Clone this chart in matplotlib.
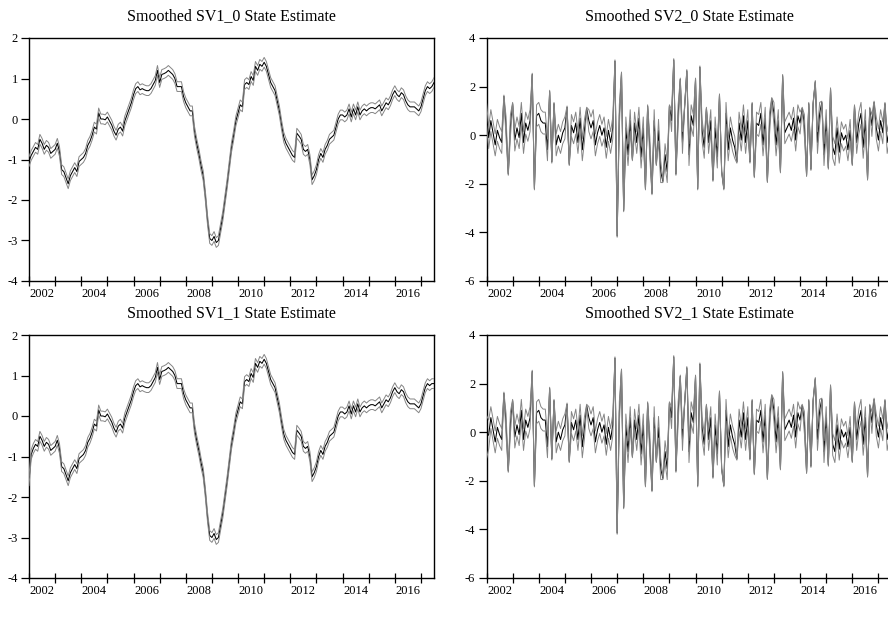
import matplotlib
matplotlib.use("Agg")
import matplotlib.pyplot as plt
import numpy as np

plt.rcParams['font.family'] = ['Liberation Serif', 'DejaVu Serif']

# monthly observations 2002M01 .. 2017M07
start_year = 2002
titles = ["Smoothed SV1_0 State Estimate", "Smoothed SV2_0 State Estimate",
          "Smoothed SV1_1 State Estimate", "Smoothed SV2_1 State Estimate"]

sv1_0 = [
    -1.05, -0.9, -0.8, -0.7, -0.75, -0.5, -0.6, -0.75, -0.65, -0.7, -0.85, -0.8,
    -0.75, -0.6, -0.8, -1.25, -1.3, -1.45, -1.6, -1.4, -1.3, -1.2, -1.3, -1.05,
    -1.0, -0.95, -0.85, -0.65, -0.55, -0.4, -0.2, -0.25, 0.15, 0.0, 0.0, -0.02,
    0.05, -0.05, -0.15, -0.3, -0.4, -0.25, -0.2, -0.3, -0.05, 0.1, 0.25, 0.4,
    0.6, 0.75, 0.8, 0.72, 0.75, 0.72, 0.7, 0.7, 0.75, 0.85, 0.95, 1.2,
    0.9, 1.1, 1.12, 1.15, 1.2, 1.15, 1.1, 1.0, 0.8, 0.8, 0.8, 0.55,
    0.4, 0.3, 0.2, 0.2, -0.3, -0.6, -0.85, -1.15, -1.4, -1.9, -2.5, -2.95,
    -3.0, -2.9, -3.05, -3.0, -2.7, -2.4, -2.0, -1.6, -1.15, -0.7, -0.4, -0.05,
    0.15, 0.35, 0.3, 0.85, 0.9, 0.85, 1.05, 0.95, 1.3, 1.2, 1.35, 1.3,
    1.4, 1.3, 1.1, 0.9, 0.8, 0.7, 0.45, 0.2, -0.15, -0.45, -0.6, -0.7,
    -0.8, -0.9, -0.95, -0.35, -0.42, -0.5, -0.75, -0.8, -0.75, -1.0, -1.5, -1.4,
    -1.25, -1.0, -0.85, -0.95, -0.75, -0.65, -0.5, -0.45, -0.4, -0.2, 0.0, 0.1,
    0.1, 0.05, 0.1, 0.25, 0.05, 0.25, 0.1, 0.3, 0.1, 0.2, 0.25, 0.2,
    0.25, 0.28, 0.28, 0.25, 0.3, 0.35, 0.2, 0.3, 0.4, 0.35, 0.45, 0.6,
    0.7, 0.6, 0.55, 0.65, 0.6, 0.45, 0.35, 0.3, 0.3, 0.3, 0.25, 0.2,
    0.3, 0.5, 0.7, 0.8, 0.75, 0.8, 0.9,
]

sv1_1 = [
    -1.6, -0.95, -0.8, -0.7, -0.75, -0.5, -0.6, -0.75, -0.65, -0.7, -0.85, -0.8,
    -0.75, -0.6, -0.8, -1.25, -1.3, -1.45, -1.6, -1.4, -1.3, -1.2, -1.3, -1.05,
    -1.0, -0.95, -0.85, -0.65, -0.55, -0.4, -0.2, -0.25, 0.15, 0.0, 0.0, -0.02,
    0.05, -0.05, -0.15, -0.3, -0.4, -0.25, -0.2, -0.3, -0.05, 0.1, 0.25, 0.4,
    0.6, 0.75, 0.8, 0.72, 0.75, 0.72, 0.7, 0.7, 0.75, 0.85, 0.95, 1.2,
    0.9, 1.1, 1.12, 1.15, 1.2, 1.15, 1.1, 1.0, 0.8, 0.8, 0.8, 0.55,
    0.4, 0.3, 0.2, 0.2, -0.3, -0.6, -0.85, -1.15, -1.4, -1.9, -2.5, -2.95,
    -3.0, -2.9, -3.05, -3.0, -2.7, -2.4, -2.0, -1.6, -1.15, -0.7, -0.4, -0.05,
    0.15, 0.35, 0.3, 0.85, 0.9, 0.85, 1.05, 0.95, 1.3, 1.2, 1.35, 1.3,
    1.4, 1.3, 1.1, 0.9, 0.8, 0.7, 0.45, 0.2, -0.15, -0.45, -0.6, -0.7,
    -0.8, -0.9, -0.95, -0.35, -0.42, -0.5, -0.75, -0.8, -0.75, -1.0, -1.5, -1.4,
    -1.25, -1.0, -0.85, -0.95, -0.75, -0.65, -0.5, -0.45, -0.4, -0.2, 0.0, 0.1,
    0.1, 0.05, 0.1, 0.25, 0.05, 0.25, 0.1, 0.3, 0.1, 0.2, 0.25, 0.2,
    0.25, 0.28, 0.28, 0.25, 0.3, 0.35, 0.2, 0.3, 0.4, 0.35, 0.45, 0.6,
    0.7, 0.6, 0.55, 0.65, 0.6, 0.45, 0.35, 0.3, 0.3, 0.3, 0.25, 0.2,
    0.3, 0.5, 0.7, 0.8, 0.75, 0.8, 0.8,
]
sv1_band = 0.12

sv2_0 = [
    0.9, -0.1, 0.6, 0.1, -0.4, 0.2, -0.1, -0.3, 1.6, 0.3, -1.6, 0.4,
    1.3, -0.2, 0.3, -0.1, 0.9, -0.3, 0.5, 0.2, 0.6, 2.5, -2.2, 0.8,
    0.9, 0.6, 0.5, 0.5, -0.6, 1.8, -1.1, 1.3, -0.4, 0.0, -0.3, 0.1,
    0.3, 1.15, -1.2, 0.4, 0.1, 0.5, -0.3, 0.7, -0.6, 0.2, 1.1, 0.6,
    0.3, 0.6, -0.4, 0.1, 0.4, 0.0, 0.3, -0.5, 0.2, -0.3, 0.3, 3.05,
    -4.15, 0.8, 2.55, -3.1, 0.3, -0.8, 0.6, -1.0, 0.5, -0.3, 0.7, -0.9,
    0.3, -2.2, 1.2, -0.5, -2.4, 0.6, -1.2, 0.2, -1.5, -1.9, -0.8, -1.5,
    1.2, 0.6, 3.1, -1.6, 0.8, 2.3, -0.3, 1.2, 2.65, -0.8, 0.8, 0.4,
    2.3, -2.2, 2.8, 0.2, -0.5, 1.1, -0.3, 0.6, -1.85, 0.3, -0.9, 1.65,
    -1.5, -2.2, 0.9, -0.6, 0.3, -0.2, -0.5, -1.1, 0.5, -0.2, 0.8, -0.3,
    0.6, -1.1, 1.3, -1.7, 0.5, 0.4, 0.9, -0.4, 0.7, -1.9, 0.5, 1.5,
    0.9, -0.4, 0.6, -1.5, 2.45, 0.1, 0.3, 0.5, 0.2, 0.7, -0.2, 0.8,
    0.5, 1.1, 0.4, -1.65, 1.3, -1.4, 1.3, 2.2, -0.3, 0.9, 1.35, -0.8,
    0.6, -1.35, 1.9, -0.5, -0.8, 0.3, -0.7, 0.1, -0.2, 0.0, -0.6, 0.2,
    -1.2, 1.2, -0.3, 0.5, 0.9, -0.5, 0.6, -1.8, 1.1, 0.4, 1.35, 0.3,
    -0.2, 0.6, 0.1, 1.3, -0.3, 0.2, 0.1,
]
sv2_0_band = [
    0.45, 0.45, 0.45, 0.45, 0.45, 0.45, 0.45, 0.45, 0.05, 0.45, 0.05, 0.45,
    0.05, 0.45, 0.45, 0.45, 0.45, 0.45, 0.45, 0.45, 0.45, 0.05, 0.05, 0.45,
    0.45, 0.45, 0.45, 0.45, 0.45, 0.05, 0.05, 0.05, 0.45, 0.45, 0.45, 0.45,
    0.45, 0.05, 0.05, 0.45, 0.45, 0.45, 0.45, 0.45, 0.45, 0.45, 0.05, 0.45,
    0.45, 0.45, 0.45, 0.45, 0.45, 0.45, 0.45, 0.45, 0.45, 0.45, 0.45, 0.05,
    0.05, 0.45, 0.05, 0.05, 0.45, 0.45, 0.45, 0.05, 0.45, 0.45, 0.45, 0.45,
    0.45, 0.05, 0.05, 0.45, 0.05, 0.45, 0.05, 0.45, 0.45, 0.05, 0.45, 0.45,
    0.05, 0.45, 0.05, 0.05, 0.45, 0.05, 0.45, 0.05, 0.05, 0.45, 0.45, 0.45,
    0.05, 0.05, 0.05, 0.45, 0.45, 0.05, 0.45, 0.45, 0.05, 0.45, 0.45, 0.05,
    0.05, 0.05, 0.45, 0.45, 0.45, 0.45, 0.45, 0.05, 0.45, 0.45, 0.45, 0.45,
    0.45, 0.05, 0.05, 0.05, 0.45, 0.45, 0.45, 0.45, 0.45, 0.05, 0.45, 0.05,
    0.45, 0.45, 0.45, 0.05, 0.05, 0.45, 0.45, 0.45, 0.45, 0.45, 0.45, 0.45,
    0.45, 0.05, 0.45, 0.05, 0.05, 0.05, 0.05, 0.05, 0.45, 0.45, 0.05, 0.45,
    0.45, 0.05, 0.05, 0.45, 0.45, 0.45, 0.45, 0.45, 0.45, 0.45, 0.45, 0.45,
    0.05, 0.05, 0.45, 0.45, 0.45, 0.45, 0.45, 0.05, 0.05, 0.45, 0.05, 0.45,
    0.45, 0.45, 0.45, 0.05, 0.45, 0.45, 0.45,
]

sv2_1 = [
    -0.2, -0.1, 0.6, 0.1, -0.4, 0.2, -0.1, -0.3, 1.6, 0.3, -1.6, 0.4,
    1.3, -0.2, 0.3, -0.1, 0.9, -0.3, 0.5, 0.2, 0.6, 2.5, -2.2, 0.8,
    0.9, 0.6, 0.5, 0.5, -0.6, 1.8, -1.1, 1.3, -0.4, 0.0, -0.3, 0.1,
    0.3, 1.15, -1.2, 0.4, 0.1, 0.5, -0.3, 0.7, -0.6, 0.2, 1.1, 0.6,
    0.3, 0.6, -0.4, 0.1, 0.4, 0.0, 0.3, -0.5, 0.2, -0.3, 0.3, 3.05,
    -4.15, 0.8, 2.55, -3.1, 0.3, -0.8, 0.6, -1.0, 0.5, -0.3, 0.7, -0.9,
    0.3, -2.2, 1.2, -0.5, -2.4, 0.6, -1.2, 0.2, -1.5, -1.9, -0.8, -1.5,
    1.2, 0.6, 3.1, -1.6, 0.8, 2.3, -0.3, 1.2, 2.65, -0.8, 0.8, 0.4,
    2.3, -2.2, 2.8, 0.2, -0.5, 1.1, -0.3, 0.6, -1.85, 0.3, -0.9, 1.65,
    -1.5, -2.2, 0.9, -0.6, 0.3, -0.2, -0.5, -1.1, 0.5, -0.2, 0.8, -0.3,
    0.6, -1.1, 1.3, -1.7, 0.5, 0.4, 0.9, -0.4, 0.7, -1.9, 0.5, 1.5,
    0.9, -0.4, 0.6, -1.5, 2.45, 0.1, 0.3, 0.5, 0.2, 0.7, -0.2, 0.8,
    0.5, 1.1, 0.4, -1.65, 1.3, -1.4, 1.3, 2.2, -0.3, 0.9, 1.35, -0.8,
    0.6, -1.35, 1.9, -0.5, -0.8, 0.3, -0.7, 0.1, -0.2, 0.0, -0.6, 0.2,
    -1.2, 1.2, -0.3, 0.5, 0.9, -0.5, 0.6, -1.8, 1.1, 0.4, 1.35, 0.3,
    -0.2, 0.6, 0.1, 1.3, -0.3, 0.2, -0.2,
]
sv2_1_band = [
    0.9, 0.6, 0.45, 0.45, 0.45, 0.45, 0.45, 0.45, 0.05, 0.45, 0.05, 0.45,
] + sv2_0_band[12:]

y_limits = [(-4, 2), (-6, 4), (-4, 2), (-6, 4)]
y_ticks = [[-4, -3, -2, -1, 0, 1, 2], [-6, -4, -2, 0, 2, 4],
           [-4, -3, -2, -1, 0, 1, 2], [-6, -4, -2, 0, 2, 4]]
year_labels = ["2002", "2004", "2006", "2008", "2010", "2012", "2014", "2016"]

series = [(sv1_0, [sv1_band] * len(sv1_0)), (sv2_0, sv2_0_band),
          (sv1_1, [sv1_band] * len(sv1_1)), (sv2_1, sv2_1_band)]

W, H = 888, 635
fig = plt.figure(figsize=(W / 100, H / 100), dpi=100)
lefts = [29, 486.5, 29, 486.5]
tops = [38, 38, 335, 335]
aw, ah = 405, 243

for k in range(4):
    l, t = lefts[k], tops[k]
    ax = fig.add_axes([l / W, 1 - (t + ah) / H, aw / W, ah / H])
    vals, band = series[k]
    vals = np.array(vals)
    band = np.array(band)
    x = start_year + np.arange(len(vals)) / 12.0
    ax.plot(x, vals, color='black', lw=0.75, zorder=3)
    ax.plot(x, vals + band, color='#858585', lw=0.7, zorder=4)
    ax.plot(x, vals - band, color='#858585', lw=0.7, zorder=4)
    ax.set_xlim(2002, 2017.5)
    ax.set_ylim(*y_limits[k])
    ax.set_yticks(y_ticks[k])
    ax.set_yticklabels([str(v) for v in y_ticks[k]])
    ax.set_xticks(np.arange(2002, 2018))
    ax.set_xticklabels([])
    ax.set_xticks([int(s) + 0.5 for s in year_labels], minor=True)
    ax.set_xticklabels(year_labels, minor=True)
    ax.tick_params(axis='x', which='major', direction='inout', length=7, width=0.9)
    ax.tick_params(axis='x', which='minor', length=0, pad=5, labelsize=9)
    ax.tick_params(axis='y', direction='out', length=6, width=0.9, pad=2, labelsize=9)
    for s in ax.spines.values():
        s.set_linewidth(1.0)
    ax.text(0.5, 1 + 22 / ah, titles[k], transform=ax.transAxes,
            ha='center', va='center', fontsize=11.5)

fig.savefig("out.png", dpi=100)
